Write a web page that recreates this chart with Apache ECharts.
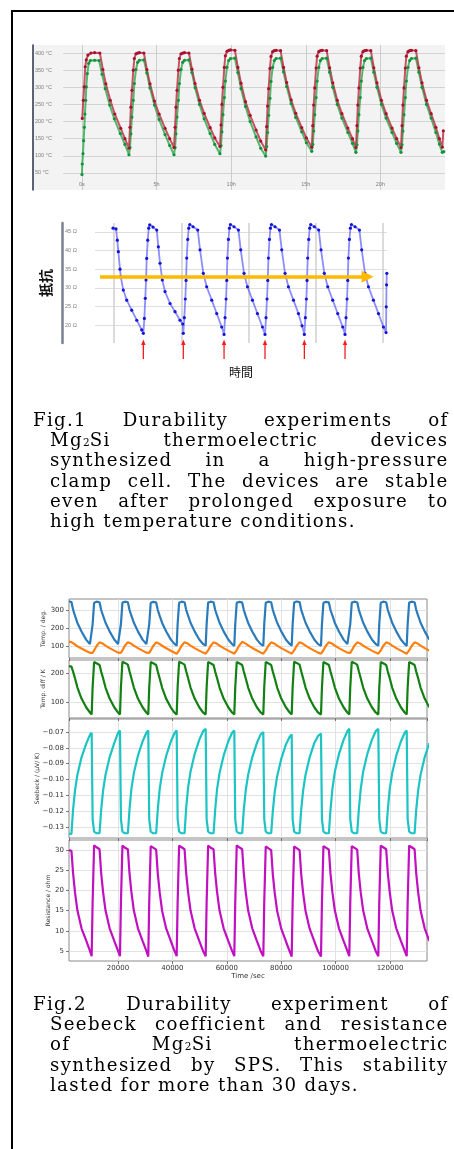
<!DOCTYPE html>
<html><head><meta charset="utf-8">
<script src="https://cdn.jsdelivr.net/npm/echarts@6/dist/echarts.min.js"></script>
<style>
html,body{margin:0;padding:0;background:#fff;overflow:hidden;}
body{width:454px;height:1149px;position:relative;}
#frame{position:absolute;left:11px;top:10px;width:600px;height:1300px;border:2px solid #000;box-sizing:border-box;}
#panel{position:absolute;left:33px;top:45px;width:412px;height:145px;background:#f3f3f3;}
#chart{position:absolute;left:0;top:0;width:454px;height:1149px;}
.cap{position:absolute;left:33px;font-family:"DejaVu Serif",serif;font-size:18.2px;letter-spacing:1.3px;color:#000;}
.cap div{height:20.2px;line-height:20.2px;text-align:justify;text-align-last:justify;margin-left:17px;width:398.5px;}
.cap div.first{margin-left:0;width:415.5px;}
.cap div.last{text-align:left;text-align-last:left;}
.cap .s{font-size:10.5px;letter-spacing:0.3px;}
</style></head>
<body>
<div id="frame"></div>
<div id="panel"></div>
<div id="chart"></div>
<div class="cap" style="top:410px">
  <div class="first">Fig.1 Durability experiments of</div>
  <div>Mg<span class="s">2</span>Si thermoelectric devices</div>
  <div>synthesized in a high-pressure</div>
  <div>clamp cell. The devices are stable</div>
  <div>even after prolonged exposure to</div>
  <div class="last">high temperature conditions.</div>
</div>
<div class="cap" style="top:994px">
  <div class="first">Fig.2 Durability experiment of</div>
  <div>Seebeck coefficient and resistance</div>
  <div>of Mg<span class="s">2</span>Si thermoelectric</div>
  <div>synthesized by SPS. This stability</div>
  <div class="last">lasted for more than 30 days.</div>
</div>
<script>
// Fig.1 上段：加熱側(赤)・冷却側(緑) 温度 [時間 h, °C]
const HOT_1 = [
  [0.02,209],[0.09,262],[0.15,301],[0.22,360],[0.29,380],[0.40,394],[0.60,400],[0.85,401],[1.20,400],[1.40,352],[1.60,310],[1.90,262],[2.20,222],[2.60,180],[2.88,150],
  [3.15,122],[3.22,183],[3.28,242],[3.35,291],[3.44,350],[3.51,384],[3.62,398],[3.73,400],[3.85,401],[4.15,400],[4.35,352],[4.56,310],[4.86,260],[5.17,222],[5.57,180],[5.88,150],
  [6.17,124],[6.24,183],[6.30,242],[6.37,291],[6.46,350],[6.53,384],[6.64,398],[6.75,400],[6.87,401],[7.17,400],[7.37,353],[7.58,311],[7.88,262],[8.19,224],[8.59,182],[8.90,152],
  [9.25,127],[9.32,190],[9.38,250],[9.45,300],[9.54,358],[9.61,392],[9.72,405],[9.83,408],[9.95,409],[10.25,408],[10.45,358],[10.66,312],[10.96,258],[11.27,218],[11.67,175],[11.98,143],
  [12.31,117],[12.38,185],[12.44,245],[12.51,296],[12.60,355],[12.67,390],[12.78,404],[12.89,407],[13.01,408],[13.31,407],[13.51,358],[13.72,314],[14.02,263],[14.33,224],[14.73,182],[15.04,152],
  [15.40,125],[15.47,188],[15.53,248],[15.60,298],[15.69,356],[15.76,391],[15.87,404],[15.98,407],[16.10,408],[16.40,407],[16.60,357],[16.81,313],[17.11,262],[17.42,223],[17.82,181],[18.13,150],
  [18.36,124],[18.43,188],[18.49,248],[18.56,298],[18.65,356],[18.72,391],[18.83,404],[18.94,407],[19.06,408],[19.36,407],[19.56,357],[19.77,313],[20.07,262],[20.38,223],[20.78,181],[21.09,150],
  [21.38,124],[21.45,188],[21.51,248],[21.58,298],[21.67,356],[21.74,391],[21.85,404],[21.96,407],[22.08,408],[22.38,407],[22.58,357],[22.79,313],[23.09,262],[23.40,223],[23.72,183],[23.95,150],
  [24.15,125],[24.22,173]
];
const COLD_1 = [
  [0.00,45],[0.02,76],[0.07,106],[0.11,144],[0.16,183],[0.20,222],[0.25,262],[0.29,301],[0.36,340],[0.45,370],[0.56,378],[0.85,379],[1.15,378],[1.35,338],[1.56,296],[1.86,248],[2.17,208],[2.57,165],[2.88,133],
  [3.15,103],[3.22,124],[3.28,164],[3.35,213],[3.44,262],[3.51,311],[3.62,352],[3.73,373],[3.85,379],[4.15,380],[4.35,342],[4.56,298],[4.86,248],[5.17,206],[5.57,162],[5.88,130],
  [6.17,103],[6.24,124],[6.30,164],[6.37,213],[6.46,262],[6.53,311],[6.64,352],[6.75,373],[6.87,379],[7.17,380],[7.37,343],[7.58,299],[7.88,250],[8.19,208],[8.59,165],[8.90,133],
  [9.25,106],[9.32,130],[9.38,170],[9.45,220],[9.54,270],[9.61,318],[9.72,358],[9.83,378],[9.95,384],[10.25,385],[10.45,343],[10.66,296],[10.96,244],[11.27,200],[11.67,155],[11.98,122],
  [12.31,99],[12.38,127],[12.44,168],[12.51,218],[12.60,268],[12.67,317],[12.78,358],[12.89,378],[13.01,384],[13.31,385],[13.51,345],[13.72,302],[14.02,252],[14.33,212],[14.73,170],[15.04,138],
  [15.40,113],[15.47,133],[15.53,172],[15.60,220],[15.69,270],[15.76,318],[15.87,358],[15.98,378],[16.10,384],[16.40,385],[16.60,344],[16.81,300],[17.11,250],[17.42,210],[17.82,168],[18.13,136],
  [18.36,110],[18.43,132],[18.49,172],[18.56,220],[18.65,270],[18.72,318],[18.83,358],[18.94,378],[19.06,384],[19.36,385],[19.56,344],[19.77,300],[20.07,250],[20.38,210],[20.78,168],[21.09,136],
  [21.38,110],[21.45,132],[21.51,172],[21.58,220],[21.67,270],[21.74,318],[21.85,358],[21.96,378],[22.08,384],[22.38,385],[22.58,344],[22.79,300],[23.09,250],[23.40,210],[23.72,168],[23.95,134],
  [24.15,110],[24.25,112]
];
const TICKS_1 = ['0s', '5h', '10h', '15h', '20h'];

// Fig.1 下段：抵抗 [時間(任意単位), Ω]
const OHM_1 = [
  [-0.15,46.0],[0.30,45.8],[0.49,42.8],[0.64,39.7],[0.89,35.0],[1.00,33.0],[1.38,29.4],[1.89,26.7],[2.63,24.0],[3.38,21.3],[4.12,18.7],
  [4.36,17.8],[4.51,21.8],[4.65,27.2],[4.76,32.1],[4.86,37.9],[5.01,42.8],[5.16,46.0],[5.31,46.9],[5.80,46.3],[6.35,45.5],[6.59,41.0],[6.84,36.6],[7.18,32.1],[7.58,29.0],[8.33,25.8],[9.07,23.6],[9.81,21.3],[10.22,20.3],
  [10.30,17.8],[10.45,22.0],[10.60,27.0],[10.71,32.0],[10.81,38.0],[10.96,43.0],[11.11,46.0],[11.26,47.0],[11.75,46.4],[12.45,45.5],[12.79,40.2],[13.28,33.9],[13.78,30.3],[14.53,26.7],[15.27,23.1],[16.01,19.5],
  [16.36,17.5],[16.51,22.0],[16.66,27.0],[16.76,32.0],[16.86,38.0],[17.01,43.0],[17.16,46.0],[17.31,47.0],[17.84,46.4],[18.50,45.5],[18.84,40.2],[19.33,33.9],[19.84,30.3],[20.58,26.7],[21.32,23.1],[22.07,19.5],
  [22.45,17.5],[22.60,22.0],[22.75,27.0],[22.86,32.0],[22.96,38.0],[23.11,43.0],[23.26,46.0],[23.41,47.0],[23.94,46.4],[24.60,45.5],[24.94,40.2],[25.43,33.9],[25.93,30.3],[26.68,26.7],[27.42,23.1],[27.96,19.8],
  [28.30,17.5],[28.45,22.0],[28.60,27.0],[28.70,32.0],[28.80,38.0],[28.95,43.0],[29.10,46.0],[29.25,47.0],[29.78,46.4],[30.44,45.5],[30.78,40.2],[31.27,33.9],[31.78,30.3],[32.52,26.7],[33.26,23.1],[34.01,19.5],
  [34.35,17.5],[34.50,22.0],[34.65,27.0],[34.75,32.0],[34.85,38.0],[35.00,43.0],[35.15,46.0],[35.30,47.0],[35.84,46.4],[36.49,45.5],[36.83,40.2],[37.32,33.9],[37.83,30.3],[38.57,26.7],[39.32,23.1],[40.06,19.5],
  [40.45,18.0],[40.48,24.9],[40.52,30.8],[40.56,33.9]
];
const OHM_MIN_AT = [4.36, 10.30, 16.36, 22.45, 28.30, 34.35];  // 赤矢印
const TREND_OHM = 33;                                          // 黄矢印の高さ
const TREND_FROM = -2.08, TREND_TO = 37.7;

// Fig.2：時間 [sec] と 4 パネルの値
const TIME_S = [
  2000,2900,3500,4200,5100,6600,8300,9700,
  10330,10680,11230,12130,13230,13830,14530,15430,16930,18630,20030,
  20740,21090,21640,22540,23640,24240,24940,25840,27340,29040,30440,
  31140,31490,32040,32940,34040,34640,35340,36240,37740,39440,40840,
  41580,41930,42480,43380,44480,45080,45780,46680,48180,49880,51280,
  52240,52590,53140,54040,55140,55740,56440,57340,58840,60540,61940,
  62760,63110,63660,64560,65660,66260,66960,67860,69360,71060,72460,
  73420,73770,74320,75220,76320,76920,77620,78520,80020,81720,83120,
  83860,84210,84760,85660,86760,87360,88060,88960,90460,92160,93560,
  94630,94980,95530,96430,97530,98130,98830,99730,101230,102930,104330,
  105040,105390,105940,106840,107940,108540,109240,110140,111640,113340,114740,
  115700,116050,116600,117500,118600,119200,119900,120800,122300,124000,125400,
  126140,126490,127040,127940,129040,129640,130340,131240,132740,134440
];
const TEMP_HOT = [
  348,344,302,268,228,180,135,110,
  102,220,340,346,343,300,268,229,181,136,111,
  101,222,341,346,343,301,268,229,181,135,110,
  101,220,340,345,342,300,267,228,180,135,110,
  102,221,340,346,343,301,268,229,181,136,111,
  102,220,341,346,343,300,268,229,181,136,110,
  101,220,340,345,342,300,267,228,180,135,110,
  101,221,340,346,343,301,268,229,181,136,111,
  102,220,341,347,344,301,269,229,181,136,110,
  101,220,340,345,342,300,268,228,180,135,110,
  101,221,341,346,343,301,268,229,181,136,111,
  102,220,340,346,343,300,268,229,181,136,110,
  101,221,341,346,343,301,268,229,181,136
];
const TEMP_COLD = [
  124,121,116,108,98,86,72,62,
  57,62,75,100,120,118,112,102,88,74,63,
  57,62,76,101,121,119,112,102,88,74,63,
  57,62,75,100,120,118,111,101,87,73,62,
  56,62,76,101,121,119,112,102,88,74,63,
  57,62,75,100,120,118,112,102,88,74,63,
  57,63,77,102,123,120,113,103,89,75,63,
  57,62,75,100,120,118,112,102,88,74,63,
  57,62,75,100,121,119,112,102,88,74,63,
  57,62,76,101,121,119,112,102,88,74,63,
  57,62,75,100,120,118,112,102,88,74,63,
  57,62,75,100,120,118,112,102,88,74,63,
  57,62,75,100,120,118,112,102,88,74
];
const TEMP_DIFF = [
  224,222,205,182,150,112,82,64,
  57,150,238,234,228,205,182,150,112,82,64,
  57,152,239,235,229,206,182,150,112,82,64,
  57,150,238,234,228,205,181,149,111,81,63,
  56,151,239,235,229,206,182,150,112,82,64,
  57,150,238,234,228,205,182,150,112,82,64,
  57,150,238,234,228,205,182,150,112,82,64,
  57,151,238,234,228,205,182,150,112,82,64,
  57,150,239,235,229,206,182,150,112,82,64,
  57,150,238,234,228,205,182,150,112,82,64,
  57,151,239,235,229,206,182,150,112,82,64,
  57,150,238,234,228,205,182,150,112,82,64,
  57,150,238,234,228,205,182,150,112,82
];
const SEEBECK = [
  -0.1344,-0.1344,-0.119,-0.107,-0.097,-0.086,-0.0775,-0.0718,
  -0.0705,-0.125,-0.133,-0.134,-0.134,-0.119,-0.107,-0.097,-0.086,-0.077,-0.0705,
  -0.0690,-0.125,-0.133,-0.134,-0.134,-0.119,-0.106,-0.096,-0.085,-0.076,-0.0705,
  -0.0690,-0.125,-0.133,-0.134,-0.134,-0.119,-0.106,-0.096,-0.085,-0.076,-0.0705,
  -0.0690,-0.125,-0.133,-0.134,-0.134,-0.118,-0.105,-0.095,-0.084,-0.075,-0.0695,
  -0.0680,-0.125,-0.133,-0.134,-0.134,-0.119,-0.106,-0.096,-0.085,-0.076,-0.0705,
  -0.0690,-0.125,-0.133,-0.134,-0.134,-0.119,-0.107,-0.097,-0.086,-0.077,-0.0715,
  -0.0700,-0.125,-0.133,-0.134,-0.134,-0.120,-0.108,-0.098,-0.087,-0.078,-0.0730,
  -0.0715,-0.125,-0.133,-0.134,-0.134,-0.119,-0.107,-0.097,-0.086,-0.077,-0.0725,
  -0.0710,-0.125,-0.133,-0.134,-0.134,-0.119,-0.106,-0.095,-0.084,-0.075,-0.0695,
  -0.0680,-0.125,-0.133,-0.134,-0.134,-0.119,-0.106,-0.095,-0.084,-0.075,-0.0695,
  -0.0680,-0.125,-0.133,-0.134,-0.134,-0.119,-0.106,-0.096,-0.085,-0.076,-0.0705,
  -0.0690,-0.125,-0.133,-0.134,-0.134,-0.119,-0.107,-0.097,-0.086,-0.077
];
const RESIST = [
  30.0,29.8,24.3,19.5,15.0,10.6,7.6,5.0,
  3.7,17,31.2,30.7,30.2,24.2,19.6,15.0,10.6,7.5,5.0,
  3.7,17,31.1,30.6,30.2,24.2,19.6,15.0,10.6,7.5,5.0,
  3.6,17,31.0,30.6,30.1,24.1,19.5,14.9,10.5,7.4,4.9,
  3.7,17,31.1,30.7,30.2,24.2,19.6,15.0,10.6,7.5,5.0,
  3.7,17,31.1,30.6,30.2,24.2,19.6,15.0,10.6,7.5,5.0,
  3.7,17,31.2,30.7,30.2,24.2,19.6,15.0,10.6,7.5,5.0,
  3.7,17,30.9,30.5,30.0,24.0,19.4,14.9,10.5,7.4,4.9,
  3.6,17,30.9,30.5,30.0,24.0,19.4,14.9,10.5,7.4,4.9,
  3.6,17,31.0,30.6,30.1,24.1,19.5,15.0,10.6,7.5,5.0,
  3.7,17,31.0,30.6,30.1,24.1,19.5,15.0,10.6,7.5,5.0,
  3.7,17,31.1,30.7,30.2,24.2,19.6,15.0,10.6,7.5,5.0,
  3.7,17,31.1,30.7,30.2,24.2,19.6,15.0,10.6,7.5
];

const zip = (t, v) => t.map((x, i) => [x, v[i]]);
const minus = v => (v < 0 ? '\u2212' : '') + Math.abs(v).toFixed(2);
const GRAY_LINE = '#d3d3d3';
const F2 = 'DejaVu Sans';

const chart = echarts.init(document.getElementById('chart'));

// Fig.2 共通軸
function f2x(gi, bottom) {
  return {
    gridIndex: gi, type: 'value', min: 2000, max: 133600, minInterval: 20000, maxInterval: 20000,
    axisLine: { show: false, onZero: false },
    axisTick: { show: true, length: 3, lineStyle: { color: '#555', width: 0.8 } },
    axisLabel: { show: bottom, fontSize: 7, color: '#333', margin: 4, fontFamily: F2,
                 showMinLabel: false, showMaxLabel: false, formatter: v => String(v) },
    splitLine: { show: true, showMinLine: false, showMaxLine: false, lineStyle: { color: '#e2e2e2', width: 1 } },
    name: bottom ? 'Time /sec' : '', nameLocation: 'middle', nameGap: 12, nameMoveOverlap: false,
    nameTextStyle: { fontSize: 7, color: '#333', fontFamily: F2 },
  };
}
function f2y(gi, min, max, step, name, gap, fmt) {
  return {
    gridIndex: gi, type: 'value', min, max, minInterval: step, maxInterval: step,
    axisLine: { show: false, onZero: false },
    axisTick: { show: true, length: 3, lineStyle: { color: '#555', width: 0.8 } },
    axisLabel: { fontSize: 7, color: '#333', margin: 5, fontFamily: F2, showMinLabel: false, showMaxLabel: false,
                 formatter: fmt || (v => String(v)) },
    splitLine: { show: true, showMinLine: false, showMaxLine: false, lineStyle: { color: '#e2e2e2', width: 1 } },
    name, nameLocation: 'middle', nameRotate: 90, nameGap: gap, nameMoveOverlap: false,
    nameTextStyle: { fontSize: 6, color: '#333', fontFamily: F2 },
  };
}
const f2line = (gi, data, color) => ({
  type: 'line', xAxisIndex: gi, yAxisIndex: gi, data, showSymbol: false,
  lineStyle: { color, width: 2.2 }, silent: true,
});

const grid2 = { show: true, borderColor: '#8a8a8a', borderWidth: 1, left: 69, width: 358, outerBoundsMode: 'none' };

chart.setOption({
  animation: false,
  grid: [
    { left: 63, top: 45, width: 382, height: 145, outerBoundsMode: 'none' },
    { left: 95, top: 223, width: 292, height: 120, outerBoundsMode: 'none' },
    { ...grid2, top: 599, height: 59 },
    { ...grid2, top: 660, height: 58 },
    { ...grid2, top: 719, height: 119 },
    { ...grid2, top: 840, height: 121 },
  ],
  xAxis: [
    {
      gridIndex: 0, type: 'value', min: -1.27, max: 24.33, minInterval: 5, maxInterval: 5,
      axisLine: { show: false, onZero: false }, axisTick: { show: false },
      axisLabel: { inside: true, margin: 3, fontSize: 5.5, color: '#808080', fontFamily: 'Liberation Sans',
                   showMinLabel: false, showMaxLabel: false, formatter: v => TICKS_1[v / 5] || '' },
      splitLine: { show: true, showMinLine: false, showMaxLine: false, lineStyle: { color: '#cdcdcd', width: 1 } },
    },
    {
      gridIndex: 1, type: 'value', min: -2.83, max: 40.59, minInterval: 10, maxInterval: 10,
      axisLine: { show: false, onZero: false }, axisTick: { show: false }, axisLabel: { show: false },
      splitLine: { show: true, showMinLine: false, showMaxLine: false, lineStyle: { color: '#cfcfcf', width: 1.5 } },
      name: '時間', nameLocation: 'middle', nameGap: 23, nameMoveOverlap: false,
      nameTextStyle: { fontSize: 12, color: '#111', fontFamily: 'Noto Sans CJK JP' },
    },
    f2x(2, false), f2x(3, false), f2x(4, false), f2x(5, true),
  ],
  yAxis: [
    {
      gridIndex: 0, type: 'value', min: 0, max: 423.5, interval: 50, offset: 30,
      axisLine: { show: true, onZero: false, lineStyle: { color: '#27304a', width: 1.5 } }, axisTick: { show: false },
      axisLabel: { inside: true, margin: 2, fontSize: 5.5, color: '#808080', fontFamily: 'Liberation Sans',
                   showMinLabel: false, showMaxLabel: false, formatter: '{value} °C' },
      splitLine: { show: true, showMinLine: false, showMaxLine: false, lineStyle: { color: GRAY_LINE, width: 1 } },
    },
    {
      gridIndex: 1, type: 'value', min: 15.2, max: 47.4, minInterval: 5, maxInterval: 5, offset: 33,
      axisLine: { show: true, onZero: false, lineStyle: { color: '#7b7f93', width: 2.5 } }, axisTick: { show: false },
      axisLabel: { inside: true, margin: 3, fontSize: 5.5, color: '#808080', fontFamily: 'Liberation Sans',
                   showMinLabel: false, showMaxLabel: false, formatter: '{value} Ω' },
      splitLine: { show: true, showMinLine: false, showMaxLine: false, lineStyle: { color: '#dedede', width: 1 } },
      name: '抵抗', nameLocation: 'middle', nameRotate: 90, nameGap: 9, nameMoveOverlap: false,
      nameTextStyle: { fontSize: 14, color: '#111', fontWeight: 'bold', fontFamily: 'Noto Sans CJK JP' },
    },
    f2y(2, 33, 361, 100, 'Temp. / deg.', 23),
    f2y(3, 45, 245, 100, 'Temp. diff / K', 23),
    f2y(4, -0.137, -0.0618, 0.01, 'Seebeck / (μV/ K)', 29, minus),
    f2y(5, 2.5, 32.5, 5, 'Resistance / ohm', 18),
  ],
  series: [
    {
      type: 'line', xAxisIndex: 0, yAxisIndex: 0, data: COLD_1, symbol: 'circle', symbolSize: 3.2,
      itemStyle: { color: '#17923a' }, lineStyle: { color: 'rgba(40,170,75,0.8)', width: 2 }, silent: true,
    },
    {
      type: 'line', xAxisIndex: 0, yAxisIndex: 0, data: HOT_1, symbol: 'circle', symbolSize: 3.2,
      itemStyle: { color: '#a8122f' }, lineStyle: { color: 'rgba(190,40,65,0.8)', width: 2 }, silent: true,
    },
    {
      type: 'line', xAxisIndex: 1, yAxisIndex: 1, data: OHM_1, symbol: 'circle', symbolSize: 3.2,
      itemStyle: { color: '#1414d8' }, lineStyle: { color: 'rgba(80,80,250,0.65)', width: 1.8 }, silent: true,
      markLine: {
        silent: true, animation: false, symbol: ['none', 'triangle'], symbolSize: 12,
        label: { show: false }, emphasis: { disabled: true },
        lineStyle: { color: '#ffba00', width: 3.5, type: 'solid' },
        data: [[{ coord: [TREND_FROM, TREND_OHM] }, { coord: [TREND_TO, TREND_OHM] }]],
      },
    },
    f2line(2, zip(TIME_S, TEMP_HOT), '#2b7bba'),
    f2line(2, zip(TIME_S, TEMP_COLD), '#ff7f0e'),
    f2line(3, zip(TIME_S, TEMP_DIFF), '#128012'),
    f2line(4, zip(TIME_S, SEEBECK), '#1cc4c4'),
    f2line(5, zip(TIME_S, RESIST), '#c010c0'),
  ],
});

// 抵抗の極小点を示す赤矢印（グリッド下側）
chart.setOption({
  graphic: OHM_MIN_AT.map((t, i) => {
    const x = chart.convertToPixel({ xAxisIndex: 1 }, t);
    return {
      id: 'arr' + i, type: 'group', x, y: 0, silent: true,
      children: [
        { type: 'line', shape: { x1: 0, y1: 359, x2: 0, y2: 343 }, style: { stroke: '#ff1a1a', lineWidth: 1.3 } },
        { type: 'polygon', shape: { points: [[-2.2, 345], [2.2, 345], [0, 339.5]] }, style: { fill: '#ff1a1a' } },
      ],
    };
  }),
});
</script>
</body></html>
